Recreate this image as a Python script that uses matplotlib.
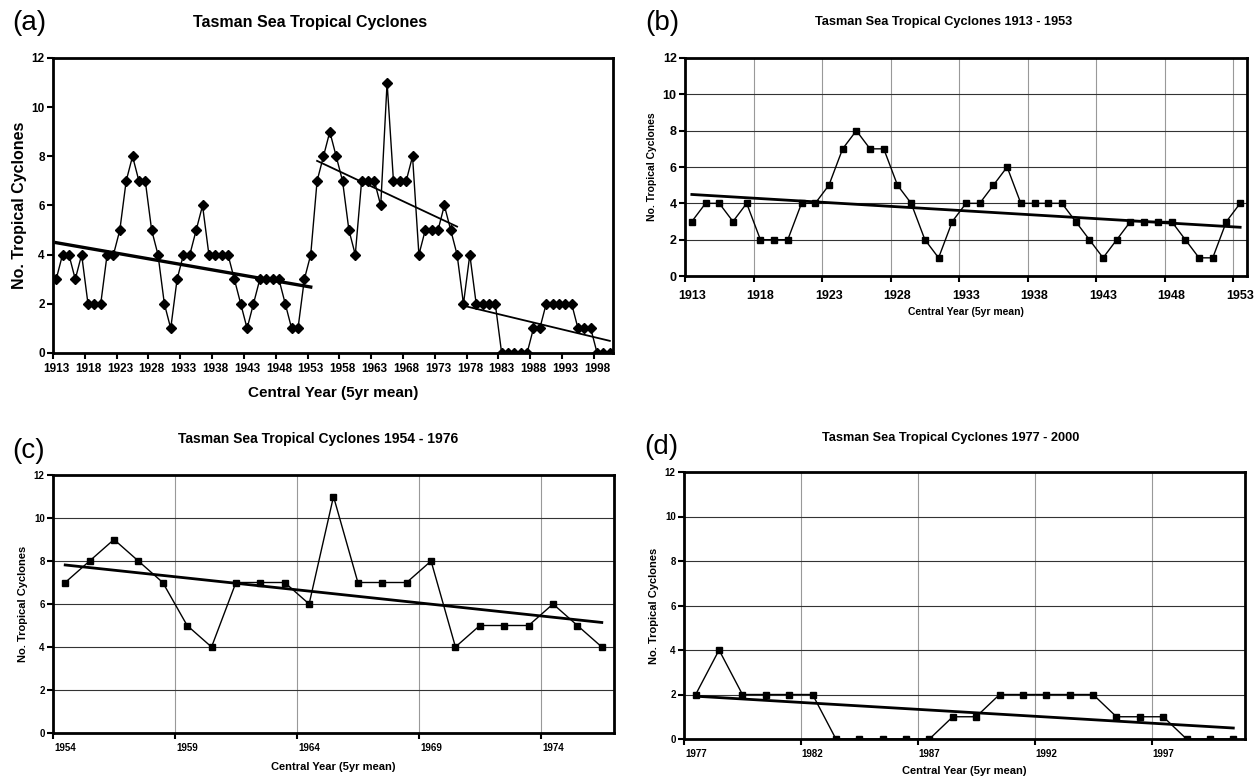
import numpy as np
import matplotlib.pyplot as plt

plt.rcParams['font.family'] = ['Liberation Sans', 'DejaVu Sans']

# 5-yr running mean of tropical cyclone counts, by central year
years_b = list(range(1913, 1954))
tc_b = [3, 4, 4, 3, 4, 2, 2, 2, 4, 4,
        5, 7, 8, 7, 7, 5, 4, 2, 1, 3,
        4, 4, 5, 6, 4, 4, 4, 4, 3, 2,
        1, 2, 3, 3, 3, 3, 2, 1, 1, 3, 4]

years_c = list(range(1954, 1977))
tc_c = [7, 8, 9, 8, 7, 5, 4, 7, 7, 7, 6, 11,
        7, 7, 7, 8, 4, 5, 5, 5, 6, 5, 4]

years_d = list(range(1977, 2001))
tc_d = [2, 4, 2, 2, 2, 2, 0, 0, 0, 0, 0, 1,
        1, 2, 2, 2, 2, 2, 1, 1, 1, 0, 0, 0]

years_a = years_b + years_c + years_d
tc_a = tc_b + tc_c + tc_d

W, H = 1258, 776
fig = plt.figure(figsize=(W / 100, H / 100), dpi=100)


def box(l, t, r, b):
    return [l / W, 1 - b / H, (r - l) / W, (b - t) / H]


def trend(ax, x, y, lw):
    x = np.asarray(x, float)
    k, c = np.polyfit(x, y, 1)
    ax.plot(x[[0, -1]], k * x[[0, -1]] + c, color='black', lw=lw, zorder=2)


def setup(ax, years, tick_fs, lab_fs, xpad, lpad, grid=True):
    ax.set_xlim(years[0] - 0.5, years[-1] + 0.5)
    ax.set_ylim(0, 12)
    ax.set_yticks(range(0, 13, 2))
    labs = years[::5]
    ax.set_xticks(labs)
    ax.set_xticks([y - 0.5 for y in labs], minor=True)
    ax.tick_params(axis='x', which='major', length=0, pad=xpad)
    ax.tick_params(axis='x', which='minor', length=4, width=1.5, direction='out')
    ax.tick_params(axis='y', length=4, width=1.5, pad=2)
    for lab in ax.get_xticklabels() + ax.get_yticklabels():
        lab.set_fontsize(tick_fs)
        lab.set_fontweight('bold')
    for s in ax.spines.values():
        s.set_linewidth(2)
    if grid:
        ax.grid(axis='y', which='major', color='#333333', lw=0.8)
        ax.grid(axis='x', which='minor', color='#999999', lw=0.8)
        ax.set_axisbelow(True)
    ax.set_ylabel('No. Tropical Cyclones', fontsize=lab_fs, fontweight='bold')
    ax.set_xlabel('Central Year (5yr mean)', fontsize=lab_fs, fontweight='bold',
                  labelpad=lpad)


# (a) full record
ax = fig.add_axes(box(53, 58, 613, 353))
ax.plot(years_a, tc_a, color='black', lw=1, marker='D', ms=5.5, zorder=3)
trend(ax, years_b, tc_b, 2.4)
trend(ax, years_c, tc_c, 1.3)
trend(ax, years_d, tc_d, 1.3)
setup(ax, years_a, 8.5, 11, 7, 8, grid=False)
ax.set_ylabel('No. Tropical Cyclones', fontsize=11.5, fontweight='bold', labelpad=3)
fig.text(310 / W, 1 - 22 / H, 'Tasman Sea Tropical Cyclones', ha='center', va='center',
         fontsize=11.5, fontweight='bold')

panels = [
    ('(b)', years_b, tc_b, box(685, 58, 1247, 276), 944, 22, 'Tasman Sea Tropical Cyclones 1913 - 1953',
     9, 7.5, 10, 4, 9.2, (645, 23)),
    ('(c)', years_c, tc_c, box(53, 475, 614, 733), 318, 439, 'Tasman Sea Tropical Cyclones 1954 - 1976',
     7, 8, 7, 7, 10, (12, 451)),
    ('(d)', years_d, tc_d, box(684, 472, 1245, 739), 951, 438, 'Tasman Sea Tropical Cyclones 1977 - 2000',
     7, 8, 7, 5, 9.2, (644, 447)),
]
for tag, yrs, vals, rect, tx, ty, title, tfs, lfs, xpad, lpad, ttfs, (lx, ly) in panels:
    ax = fig.add_axes(rect)
    ax.plot(yrs, vals, color='black', lw=1, marker='s', ms=5, zorder=3)
    trend(ax, yrs, vals, 2)
    setup(ax, yrs, tfs, lfs, xpad, lpad)
    fig.text(tx / W, 1 - ty / H, title, ha='center', va='center',
             fontsize=ttfs, fontweight='bold')

fig.text(12 / W, 1 - 23 / H, '(a)', ha='left', va='center', fontsize=20)
for tag, *_, (lx, ly) in panels:
    fig.text(lx / W, 1 - ly / H, tag, ha='left', va='center', fontsize=20)

fig.savefig('out.png', dpi=100)
